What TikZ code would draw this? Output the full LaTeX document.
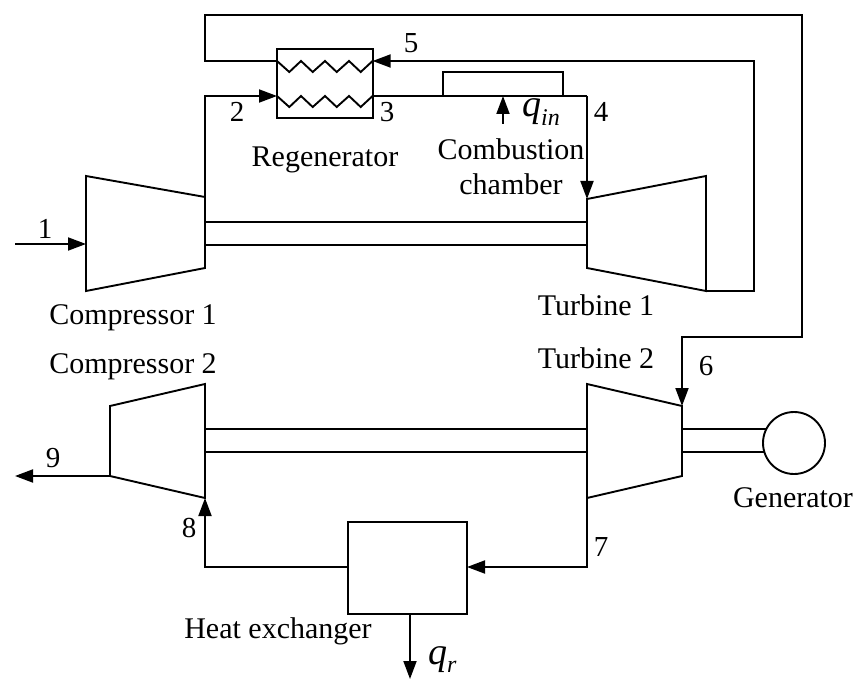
\documentclass[tikz,border=0pt]{standalone}
\usepackage{fontspec}
\setmainfont{Liberation Serif}
\usetikzlibrary{arrows.meta}
\tikzset{
  x=1pt,y=-1pt,
  pipe/.style={line width=1.9pt,line join=miter},
  flow/.style={pipe,-{Triangle[length=18pt,width=13pt]}},
  unitbox/.style={draw,line width=1.9pt,fill=white,inner sep=0pt,outer sep=0pt},
  lbl/.style={anchor=base,inner sep=0pt,font=\fontsize{30}{30}\selectfont},
  num/.style={anchor=base,inner sep=0pt,font=\fontsize{29}{29}\selectfont},
  sym/.style={anchor=base west,inner sep=0pt,font=\fontsize{38}{38}\selectfont\itshape},
}
\newcommand{\subscr}[2]{\raisebox{#1}{\fontsize{24}{24}\selectfont\itshape #2}}
\begin{document}
\begin{tikzpicture}
\useasboundingbox (0,0) rectangle (856,679);
% compressor 1
\coordinate (c1a) at (86,176); \coordinate (c1b) at (205,197);
\coordinate (c1c) at (205,268); \coordinate (c1d) at (86,291);
\coordinate (c1in) at (86,244); \coordinate (start1) at (15,244);
% turbine 1
\coordinate (t1a) at (587,199); \coordinate (t1b) at (706,176);
\coordinate (t1c) at (706,291); \coordinate (t1d) at (587,268);
% compressor 2
\coordinate (c2a) at (110,406); \coordinate (c2b) at (205,384);
\coordinate (c2c) at (205,498); \coordinate (c2d) at (110,476);
\coordinate (end9) at (15,476);
% turbine 2
\coordinate (t2a) at (587,384); \coordinate (t2b) at (682,406);
\coordinate (t2c) at (682,476); \coordinate (t2d) at (587,498);
% boxes
\node[unitbox,minimum width=95.5pt,minimum height=69pt] (reg) at (324.8,83.5) {};
\node[unitbox,minimum width=120pt,minimum height=24pt] (cc) at (503,84) {};
\node[unitbox,minimum width=119pt,minimum height=92pt] (hx) at (407.5,568) {};
% corner points
\coordinate (rl1) at (277,61); \coordinate (rr1) at (372.6,61);
\coordinate (rl2) at (277,96); \coordinate (rr2) at (372.6,96);
\coordinate (ccl) at (443,96); \coordinate (ccr) at (563,96);
\coordinate (p4) at (587,96);
\coordinate (p2) at (205,96);
\coordinate (ptop) at (205,15); \coordinate (ptl) at (205,61);
\coordinate (ptr) at (802,15); \coordinate (pm) at (802,337); \coordinate (pd) at (682,337);
\coordinate (p5a) at (754,291); \coordinate (p5b) at (754,61);
\coordinate (p7) at (587,567); \coordinate (hxe) at (467,567); \coordinate (hxw) at (348,567);
\coordinate (p8) at (205,567);
\coordinate (qrs) at (410,614); \coordinate (qre) at (410,679);
\coordinate (qis) at (503,124); \coordinate (qie) at (503,96);
% machines
\draw[pipe] (c1a) -- (c1b) -- (c1c) -- (c1d) -- cycle;
\draw[pipe] (t1a) -- (t1b) -- (t1c) -- (t1d) -- cycle;
\draw[pipe] (c2a) -- (c2b) -- (c2c) -- (c2d) -- cycle;
\draw[pipe] (t2a) -- (t2b) -- (t2c) -- (t2d) -- cycle;
% shafts
\draw[pipe] (205,222) -- (587,222) (205,245) -- (587,245);
\draw[pipe] (205,429) -- (587,429) (205,452) -- (587,452);
\draw[pipe] (682,429) -- (790,429) (682,452) -- (790,452);
\node[unitbox,circle,minimum size=62pt] (gen) at (794,443) {};
% regenerator coils
\draw[pipe] (rl1) -- (289.3,72) -- (301,61) -- (312.7,72) -- (325,61) -- (336.7,72) -- (349,61) -- (360.7,72) -- (rr1);
\draw[pipe] (rl2) -- (289.3,107) -- (301,96) -- (312.7,107) -- (325,96) -- (336.7,107) -- (349,96) -- (360.7,107) -- (rr2);
% pipes
\draw[flow] (start1) -- (c1in);
\draw[flow] (c1b) -- (p2) -- (rl2);
\draw[pipe] (rr2) -- (p4);
\draw[flow] (p4) -- (t1a);
\draw[flow] (t1c) -- (p5a) -- (p5b) -- (rr1);
\draw[flow] (rl1) -- (ptl) -- (ptop) -- (ptr) -- (pm) -- (pd) -- (t2b);
\draw[flow] (c2d) -- (end9);
\draw[flow] (t2d) -- (p7) -- (hxe);
\draw[flow] (hxw) -- (p8) -- (c2c);
\draw[flow] (qrs) -- (qre);
\draw[flow] (qis) -- (qie);
% labels
\node[lbl] (l1) at (133,324) {Compressor 1};
\node[lbl] (l2) at (133,373) {Compressor 2};
\node[lbl] (l3) at (596,315) {Turbine 1};
\node[lbl] (l4) at (596,368) {Turbine 2};
\node[lbl] (l5) at (793,507) {Generator};
\node[lbl] (l6) at (278,638) {Heat exchanger};
\node[lbl] (l7) at (325,167) {Regenerator};
\node[lbl] (l8) at (511,160) {Combustion};
\node[lbl] (l9) at (511,195) {chamber};
\node[num] (n1) at (45,238) {1};
\node[num] (n2) at (237,122) {2};
\node[num] (n3) at (387,122) {3};
\node[num] (n4) at (601,122) {4};
\node[num] (n5) at (411,53) {5};
\node[num] (n6) at (706,375) {6};
\node[num] (n7) at (601,556) {7};
\node[num] (n8) at (189,537) {8};
\node[num] (n9) at (53,467) {9};
\node[sym] (qi) at (522,117) {q\subscr{-9pt}{in}};
\node[sym] (qr) at (428,664) {q\subscr{-8pt}{r}};
\end{tikzpicture}
\end{document}
